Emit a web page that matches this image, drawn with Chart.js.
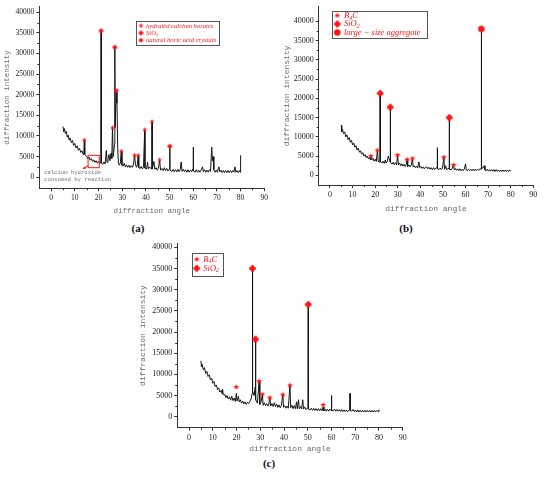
<!DOCTYPE html>
<html lang="en">
<head>
  <meta charset="UTF-8" />
  <title>XRD patterns (a) (b) (c)</title>
  <script src="https://cdn.jsdelivr.net/npm/chart.js"></script>
  <style>
    * { box-sizing: border-box; }
    body { margin: 0; background: #fff; width: 550px; height: 477px; position: relative; overflow: hidden; }
    canvas { position: absolute; }
    .tag { position: absolute; font: bold 11px 'Liberation Serif', serif; color: #111; transform: translate(-50%, -50%); }
  </style>
</head>
<body>
  <canvas id="chartA" width="272" height="222" style="left:0;top:0"></canvas>
  <canvas id="chartB" width="268" height="222" style="left:275px;top:0"></canvas>
  <canvas id="chartC" width="280" height="222" style="left:130px;top:235px"></canvas>
  <div class="tag" style="left:138px;top:228px">(a)</div>
  <div class="tag" style="left:406px;top:228px">(b)</div>
  <div class="tag" style="left:269px;top:463px">(c)</div>

<script>
// tick labels shared by the three panels
const angleTicks = [0, 10, 20, 30, 40, 50, 60, 70, 80, 90];
const intensityTicks = [0, 5000, 10000, 15000, 20000, 25000, 30000, 35000, 40000];

// ---- (a) pattern ----
const anglesA = [
  5.0,5.3,5.6,6.0,6.4,6.8,7.2,7.6,8.0,8.5,
  9.0,9.5,10.0,10.5,11.0,11.5,12.0,12.5,13.0,13.5,
  13.8,14.0,14.2,14.6,15.0,15.5,16.0,16.5,17.0,17.5,
  18.0,18.5,19.0,19.5,20.0,20.5,21.0,21.1,21.2,21.8,
  22.3,22.8,23.3,23.6,24.0,24.4,24.8,25.3,25.6,25.9,
  26.2,26.8,26.9,27.0,27.5,27.8,28.1,28.4,28.8,29.2,
  29.6,29.9,30.4,30.9,31.3,31.8,32.3,32.8,33.3,33.8,
  34.3,34.8,35.2,35.6,36.0,36.4,36.7,37.0,37.5,38.0,
  38.5,39.0,39.5,39.6,40.3,40.7,41.0,41.5,42.5,42.6,
  42.7,43.4,43.8,44.3,44.8,45.3,45.8,46.2,46.8,47.3,
  47.8,48.3,48.8,49.3,50.0,50.1,50.2,51.0,51.5,52.0,
  52.5,53.0,53.5,54.0,54.5,54.9,55.3,55.8,56.3,56.8,
  57.3,57.8,58.3,58.8,59.3,59.9,60.0,60.1,60.8,61.3,
  61.8,62.3,62.8,63.3,63.9,64.3,64.8,65.3,65.8,66.3,
  66.8,67.3,67.8,68.1,68.4,68.7,69.2,69.7,70.2,70.8,
  71.2,71.7,72.2,72.7,73.2,73.7,74.2,74.7,75.2,75.7,
  76.2,76.7,77.2,77.6,78.0,78.5,79.0,79.5,79.8,80.0
];
const intensityA = [
  12300,11000,11800,10600,11100,9700,10200,9000,9500,8400,
  8900,7700,8200,7100,7600,6500,7000,6000,6400,5500,
  6100,9000,5500,5200,5100,4500,4900,4100,4500,3800,
  4200,3600,4000,3400,3800,3300,3700,35500,3400,3100,
  3700,3200,6500,3600,4200,5500,4000,5800,4500,12000,
  5000,8000,31500,12000,21000,18000,7000,3500,2900,3400,
  6300,2900,2700,3400,2500,3000,2400,2900,2300,2800,
  2400,3200,5300,3200,2400,2900,5300,2300,2100,2600,
  2000,2500,11500,2200,2000,3600,2000,2500,1900,13500,
  2100,3800,1900,2300,1700,2200,4200,1700,2100,1600,
  2300,1600,2100,1500,2000,7500,1700,1400,1900,1300,
  1800,1300,1900,1300,1800,3700,1400,1900,1300,1800,
  1200,1800,1200,1700,1300,2000,7300,1500,1200,1800,
  1200,1700,1200,1700,2500,1300,1800,1200,1700,1200,
  1800,1400,7300,4000,5000,1800,1200,1700,1200,2500,
  1300,1700,1100,1600,1100,1600,1100,1600,1100,1600,
  1100,1600,1200,2500,1200,1600,1100,1600,1200,5300
];
const borateAnglesA = [14.0, 25.9, 29.6, 35.2, 36.7, 39.5, 42.6, 45.8];
const borateIntensA = [9000, 12000, 6300, 5300, 5300, 11500, 13500, 4200];
const silicaAnglesA = [21.1, 26.9, 50.1];
const silicaIntensA = [35500, 31500, 7500];
const boricAnglesA = [27.5];
const boricIntensA = [21000];

// ---- (b) pattern ----
const anglesB = [
  5.0,5.2,5.5,6.0,6.5,7.0,7.5,8.0,8.5,9.0,
  9.5,10.0,10.5,11.0,11.5,12.0,12.5,13.0,13.5,14.0,
  14.5,15.0,15.5,16.0,16.5,17.0,17.5,17.8,18.1,18.4,
  19.0,19.5,20.0,20.5,21.0,21.3,22.1,22.2,22.3,23.0,
  23.5,24.0,24.5,24.8,25.3,25.8,26.6,26.7,26.8,27.5,
  28.0,28.5,29.0,29.5,29.9,30.3,30.8,31.3,31.8,32.3,
  32.8,33.3,33.8,34.1,34.4,35.0,35.5,36.0,36.5,36.8,
  37.3,37.8,38.3,38.8,39.4,39.7,40.3,40.8,41.3,41.8,
  42.3,42.8,43.3,43.8,44.3,44.8,45.3,45.8,46.3,46.8,
  47.4,47.5,47.6,48.3,48.8,49.3,49.8,50.4,50.7,51.2,
  51.6,52.7,52.8,52.9,53.6,54.1,54.7,55.0,55.5,56.0,
  56.5,57.0,57.5,58.0,58.5,59.0,59.5,60.0,60.3,60.8,
  61.3,61.8,62.3,62.8,63.3,63.8,64.3,64.8,65.3,65.8,
  66.3,66.9,67.0,67.1,67.8,68.2,68.6,69.1,69.6,70.1,
  70.6,71.1,71.6,72.1,72.6,73.1,73.6,74.1,74.6,75.1,
  75.6,76.1,76.6,77.1,77.6,78.1,78.6,79.1,79.6,80.0
];
const intensityB = [
  13000,11300,12000,10800,11300,10000,10500,9300,9800,8600,
  9100,7900,8400,7300,7700,6600,7100,6000,6400,5500,
  5900,5000,5400,4600,5000,4300,4700,4100,5000,4000,
  4400,3700,4200,3600,6500,3700,3400,21300,3600,3200,
  3700,3100,4000,3200,3600,5000,3500,17700,3400,2900,
  3400,2800,3300,2700,5300,2700,3200,2500,3000,2400,
  2900,2300,2800,4100,2300,2700,2200,2700,4400,2200,
  2500,2000,2400,1900,3500,2000,2300,1800,2200,1700,
  2100,2200,1700,2100,1600,2000,1500,2000,1500,1900,
  2000,7200,1700,1500,1900,1500,1900,4700,1600,2500,
  1500,1900,15000,1600,1400,1800,2700,1400,1800,1300,
  1700,1200,1700,1200,1600,1200,1700,3000,1400,1200,
  1600,1200,1600,1200,1600,1200,1600,1200,1600,1300,
  1700,1600,38000,1800,2000,2500,1400,1200,1600,1100,
  1500,1100,1500,1100,1500,1000,1500,1000,1400,1000,
  1400,1000,1400,1000,1400,1000,1400,1000,1400,1200
];
const carbideAnglesB = [18.1, 21.0, 29.9, 34.1, 36.5, 50.4, 54.7];
const carbideIntensB = [5000, 6500, 5300, 4100, 4400, 4700, 2700];
const silicaAnglesB = [22.2, 26.7, 52.8];
const silicaIntensB = [21300, 17700, 15000];
const aggregateAnglesB = [67.0];
const aggregateIntensB = [38000];

// ---- (c) pattern ----
const anglesC = [
  5.0,5.2,5.5,6.0,6.5,7.0,7.5,8.0,8.5,9.0,
  9.5,10.0,10.5,11.0,11.5,12.0,12.5,13.0,13.5,13.9,
  14.1,14.4,15.0,15.5,16.0,16.5,17.0,17.5,18.0,18.5,
  19.0,19.5,19.9,20.2,20.8,21.1,21.6,22.1,22.6,23.1,
  23.6,24.1,24.6,25.1,25.6,26.1,26.6,26.7,26.8,27.4,
  27.9,28.0,28.1,28.8,29.5,29.8,30.3,30.9,31.2,31.7,
  32.2,32.7,33.2,33.6,34.0,34.4,34.9,35.4,35.9,36.4,
  36.9,37.4,37.9,38.4,38.9,39.5,39.8,40.3,40.8,41.3,
  41.8,42.5,42.8,43.3,43.8,44.3,44.8,45.3,45.6,46.1,
  46.4,46.9,47.4,47.9,48.2,48.7,49.2,50.1,50.2,50.3,
  51.0,51.5,52.0,52.5,53.0,53.5,54.0,54.5,55.0,55.5,
  56.0,56.5,56.8,57.3,57.8,58.3,58.8,59.3,59.9,60.0,
  60.1,60.8,61.3,61.8,62.3,62.8,63.3,63.8,64.3,64.8,
  65.3,65.8,66.3,66.8,67.7,67.8,67.9,68.6,69.1,69.6,
  70.1,70.6,71.1,71.6,72.1,72.6,73.1,73.6,74.1,74.6,
  75.1,75.6,76.1,76.6,77.1,77.6,78.1,78.6,79.1,79.6,
  80.0
];
const intensityC = [
  13200,11800,12400,11100,11600,10200,10700,9500,9900,8700,
  9100,7900,8300,7100,7500,6400,6800,5800,6200,5400,
  6500,5200,5300,4500,5000,4200,4700,3900,4800,3800,
  4400,3600,5500,3700,4800,3500,4000,3200,3700,3000,
  3500,2900,3400,3100,3600,4200,5500,35000,6000,5000,
  7000,18300,4000,3200,8400,2900,3400,5300,2700,3300,
  2600,3100,2500,3000,4500,2500,3100,2400,3300,2400,
  3000,2200,2800,2100,2700,5200,2200,2600,2000,2500,
  2000,7400,2100,2700,1900,2600,1900,3500,1900,4000,
  1900,2400,1800,4000,1800,2300,1700,2100,26500,1800,
  1600,2000,1500,2000,1500,1900,1400,1900,1400,1900,
  1400,2300,1400,1800,1300,1800,1300,1800,1400,5000,
  1500,1400,1800,1300,1700,1300,1700,1200,1700,1200,
  1600,1200,1600,1200,1600,5500,1500,1300,1700,1200,
  1600,1100,1600,1100,1500,1100,1500,1100,1500,1100,
  1500,1100,1500,1100,1500,1100,1500,1100,1500,1200,
  1700
];
const carbideAnglesC = [19.9, 29.5, 30.9, 34.0, 39.5, 42.5, 56.5];
const carbideIntensC = [7000, 8400, 5300, 4500, 5200, 7400, 2800];
const silicaAnglesC = [26.7, 28.0, 50.2];
const silicaIntensC = [35000, 18300, 26500];

const RED = '#ff1414';
const AXIS = '#333';

// small red marker images, used as pointStyle and in the legend boxes
function sprite(kind, size) {
  const s = Math.ceil(size) + 2;
  const c = document.createElement('canvas');
  c.width = s; c.height = s;
  const g = c.getContext('2d');
  const m = s / 2, r = size / 2;
  g.fillStyle = RED;
  g.beginPath();
  if (kind === 'star') {
    for (let i = 0; i < 10; i++) {
      const a = -Math.PI / 2 + i * Math.PI / 5;
      const rr = i % 2 ? r * 0.45 : r;
      g.lineTo(m + rr * Math.cos(a), m + rr * Math.sin(a));
    }
    g.closePath();
  } else if (kind === 'plus') {
    g.arc(m, m, r * 0.78, 0, Math.PI * 2);
    g.fill();
    g.beginPath();
    const w = r * 0.42;
    g.rect(m - w, m - r, w * 2, r * 2);
    g.rect(m - r, m - w, r * 2, w * 2);
  } else {
    g.arc(m, m, r, 0, Math.PI * 2);
  }
  g.fill();
  return c;
}

const pairs = (xs, ys) => xs.map((x, i) => ({ x: x, y: ys[i] }));

const minorTicks = {
  id: 'minorTicks',
  afterDraw(chart) {
    const { ctx, chartArea, scales: { x, y } } = chart;
    ctx.save();
    ctx.strokeStyle = AXIS;
    ctx.lineWidth = 1;
    ctx.beginPath();
    for (let i = 0; i < angleTicks.length - 1; i++) {
      const px = Math.round(x.getPixelForValue((angleTicks[i] + angleTicks[i + 1]) / 2)) + 0.5;
      ctx.moveTo(px, chartArea.bottom);
      ctx.lineTo(px, chartArea.bottom + 2);
    }
    for (let i = 0; i < intensityTicks.length - 1; i++) {
      const py = Math.round(y.getPixelForValue((intensityTicks[i] + intensityTicks[i + 1]) / 2)) + 0.5;
      ctx.moveTo(chartArea.left - 2, py);
      ctx.lineTo(chartArea.left, py);
    }
    ctx.stroke();
    ctx.restore();
  }
};

const boxLegend = {
  id: 'boxLegend',
  afterDraw(chart, args, opts) {
    const ctx = chart.ctx;
    const items = chart.data.datasets.filter(d => d.legendText);
    ctx.save();
    ctx.fillStyle = '#fff';
    ctx.fillRect(opts.left, opts.top, opts.width, opts.height);
    ctx.strokeStyle = '#555';
    ctx.lineWidth = 1;
    ctx.strokeRect(opts.left + 0.5, opts.top + 0.5, opts.width, opts.height);
    ctx.textBaseline = 'middle';
    items.forEach((d, i) => {
      const cy = opts.top + opts.firstRow + i * opts.rowGap;
      const img = d.pointStyle;
      ctx.drawImage(img, opts.markerX - img.width / 2, cy - img.height / 2);
      let tx = opts.textX;
      ctx.fillStyle = RED;
      d.legendText.forEach(([t, sub]) => {
        const size = sub ? opts.fontSize * 0.7 : opts.fontSize;
        ctx.font = `italic ${size}px 'Liberation Serif', serif`;
        ctx.fillText(t, tx, sub ? cy + opts.fontSize * 0.3 : cy);
        tx += ctx.measureText(t).width;
      });
    });
    ctx.restore();
  }
};

// red box + arrow + grey note in panel (a)
const hydroxideNote = {
  id: 'hydroxideNote',
  afterDatasetsDraw(chart, args, opts) {
    const { ctx, scales: { x, y } } = chart;
    ctx.save();
    ctx.strokeStyle = RED;
    ctx.fillStyle = RED;
    ctx.lineWidth = 1;
    const x0 = x.getPixelForValue(opts.box[0]), x1 = x.getPixelForValue(opts.box[1]);
    const y0 = y.getPixelForValue(opts.box[2]), y1 = y.getPixelForValue(opts.box[3]);
    ctx.strokeRect(x0, y0, x1 - x0, y1 - y0);
    const ax = x.getPixelForValue(opts.arrow[0]), ay = y.getPixelForValue(opts.arrow[1]);
    const hx = x.getPixelForValue(opts.arrow[2]), hy = y.getPixelForValue(opts.arrow[3]);
    ctx.beginPath();
    ctx.moveTo(ax, ay);
    ctx.lineTo(hx, hy);
    ctx.stroke();
    const ang = Math.atan2(hy - ay, hx - ax);
    ctx.beginPath();
    ctx.moveTo(hx, hy);
    ctx.lineTo(hx - 3 * Math.cos(ang - 0.5), hy - 3 * Math.sin(ang - 0.5));
    ctx.lineTo(hx - 3 * Math.cos(ang + 0.5), hy - 3 * Math.sin(ang + 0.5));
    ctx.closePath();
    ctx.fill();
    ctx.fillStyle = '#777';
    ctx.font = "5.6px 'Liberation Mono', monospace";
    ctx.textBaseline = 'middle';
    opts.lines.forEach(l => ctx.fillText(l.text, x.getPixelForValue(l.x), y.getPixelForValue(l.y)));
    ctx.restore();
  }
};

function makeChart(id, cfg) {
  const datasets = [{
    data: pairs(cfg.angles, cfg.intensity),
    borderColor: '#151515',
    borderWidth: 1,
    pointRadius: 0,
    tension: 0,
    order: 1
  }];
  cfg.markers.forEach(m => datasets.push({
    data: pairs(m.angles, m.intensity),
    showLine: false,
    pointStyle: m.sprite,
    pointRadius: 3,
    order: 0,
    legendText: m.label
  }));
  const tickFont = { family: "'Liberation Serif', serif", size: cfg.tickSize };
  const titleFont = { family: "'Liberation Mono', monospace", size: cfg.titleSize };
  const plugins = { legend: { display: false }, tooltip: { enabled: false }, boxLegend: cfg.legend };
  if (cfg.note) plugins.hydroxideNote = cfg.note;
  return new Chart(document.getElementById(id), {
    type: 'line',
    data: { datasets: datasets },
    options: {
      responsive: false,
      animation: false,
      layout: { padding: cfg.padding },
      plugins: plugins,
      scales: {
        x: {
          type: 'linear', min: -5, max: 90,
          afterFit: s => { s.height = cfg.xHeight; },
          afterBuildTicks: s => { s.ticks = angleTicks.map(v => ({ value: v })); },
          ticks: { autoSkip: false, maxRotation: 0, padding: 2, color: '#222', font: tickFont,
                   callback: v => String(v) },
          grid: { drawOnChartArea: false, tickLength: 3, color: AXIS },
          border: { color: AXIS, width: 1 },
          title: { display: true, text: 'diffraction angle', color: '#6a6a6a', font: titleFont,
                   padding: { top: 0, bottom: cfg.xTitlePad } }
        },
        y: {
          type: 'linear', min: cfg.yMin, max: cfg.yMax,
          afterFit: s => { s.width = cfg.yWidth; },
          afterBuildTicks: s => { s.ticks = intensityTicks.map(v => ({ value: v })); },
          ticks: { autoSkip: false, padding: 2, color: '#222', font: tickFont,
                   callback: v => String(v) },
          grid: { drawOnChartArea: false, tickLength: 3, color: AXIS },
          border: { color: AXIS, width: 1 },
          title: { display: true, text: 'diffraction intensity', color: '#6a6a6a', font: titleFont,
                   padding: { top: cfg.yTitlePad, bottom: 0 } }
        }
      }
    },
    plugins: cfg.note ? [minorTicks, boxLegend, hydroxideNote] : [minorTicks, boxLegend]
  });
}

window.addEventListener('DOMContentLoaded', () => {
  makeChart('chartA', {
    angles: anglesA, intensity: intensityA,
    markers: [
      { angles: borateAnglesA, intensity: borateIntensA, sprite: sprite('star', 5), label: [['hydrated calcium borates', 0]] },
      { angles: silicaAnglesA, intensity: silicaIntensA, sprite: sprite('plus', 4.6), label: [['SiO', 0], ['2', 1]] },
      { angles: boricAnglesA, intensity: boricIntensA, sprite: sprite('circle', 4.2), label: [['natural boric acid crystals', 0]] }
    ],
    padding: { left: 0, right: 7.7, top: 1, bottom: 0 },
    yWidth: 39.3, xHeight: 33.7, xTitlePad: 6.8, yTitlePad: 2.8,
    yMin: -2700, yMax: 41400, tickSize: 7.5, titleSize: 7.5,
    legend: { left: 136, top: 21, width: 83, height: 24, markerX: 141, textX: 146, firstRow: 4.8, rowGap: 7.2, fontSize: 6.6 },
    note: {
      box: [15.6, 20.3, 5300, 2300],
      arrow: [15.6, 2750, 13.4, 2050],
      lines: [{ text: 'calcium hydroxide', x: -3, y: 1100 }, { text: 'consumed by reaction', x: -3, y: -550 }]
    }
  });

  makeChart('chartB', {
    angles: anglesB, intensity: intensityB,
    markers: [
      { angles: carbideAnglesB, intensity: carbideIntensB, sprite: sprite('star', 6), label: [['B', 0], ['4', 1], ['C', 0]] },
      { angles: silicaAnglesB, intensity: silicaIntensB, sprite: sprite('plus', 6.5), label: [['SiO', 0], ['2', 1]] },
      { angles: aggregateAnglesB, intensity: aggregateIntensB, sprite: sprite('circle', 6.5), label: [['large \u2212 size aggregate', 0]] }
    ],
    padding: { left: 0, right: 9.7, top: 0, bottom: 0 },
    yWidth: 43.7, xHeight: 37, xTitlePad: 8.2, yTitlePad: 6.9,
    yMin: -2500, yMax: 43750, tickSize: 8, titleSize: 8,
    legend: { left: 57, top: 11, width: 95, height: 27, markerX: 62.3, textX: 69, firstRow: 4.5, rowGap: 8.5, fontSize: 8.5 }
  });

  makeChart('chartC', {
    angles: anglesC, intensity: intensityC,
    markers: [
      { angles: carbideAnglesC, intensity: carbideIntensC, sprite: sprite('star', 6), label: [['B', 0], ['4', 1], ['C', 0]] },
      { angles: silicaAnglesC, intensity: silicaIntensC, sprite: sprite('plus', 6.5), label: [['SiO', 0], ['2', 1]] }
    ],
    padding: { left: 0, right: 7.3, top: 8.3, bottom: 0 },
    yWidth: 47.2, xHeight: 29.3, xTitlePad: 3.2, yTitlePad: 8.5,
    yMin: -2600, yMax: 40950, tickSize: 8, titleSize: 8,
    legend: { left: 62, top: 18, width: 31, height: 23, markerX: 66.7, textX: 73.3, firstRow: 6.3, rowGap: 9, fontSize: 8.5 }
  });
});
</script>
</body>
</html>
